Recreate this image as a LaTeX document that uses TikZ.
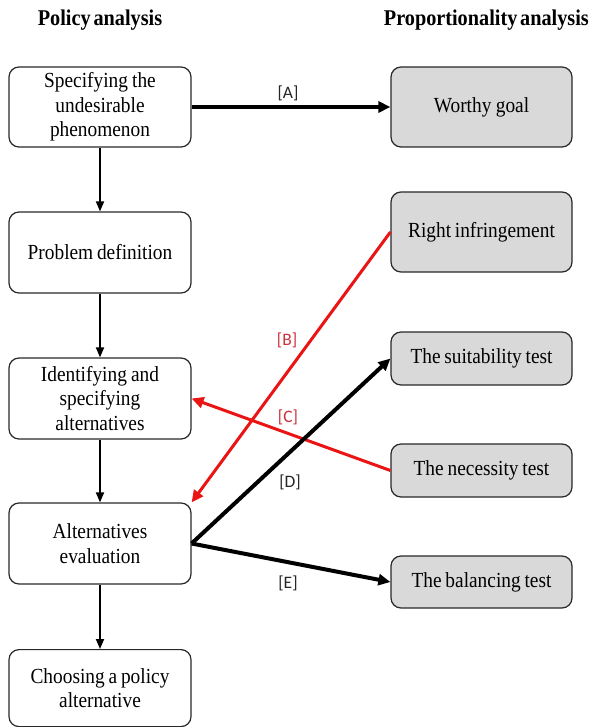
\documentclass[tikz,border=0pt]{standalone}
\usepackage{fontspec}
\setmainfont{Liberation Serif}[FakeStretch=0.9, WordSpace=0.55]
\newfontfamily\labfont{Carlito}
\usetikzlibrary{arrows.meta}
\definecolor{boxgray}{RGB}{217,217,217}
\definecolor{arrred}{RGB}{235,20,20}
\definecolor{labred}{RGB}{205,50,60}
\definecolor{edgegray}{RGB}{40,40,40}
\tikzset{
  pbox/.style={draw=edgegray, line width=1.2pt, rounded corners=10pt, fill=white,
    minimum width=182pt, text width=172pt, align=center, inner sep=0pt,
    font=\fontsize{21.5}{24.5}\selectfont,
    execute at begin node={\spaceskip=0.16em plus 0.05em minus 0.02em\relax\xspaceskip=\spaceskip}},
  rbox/.style={pbox, fill=boxgray, minimum width=181pt},
  vline/.style={line width=1.8pt, -{Triangle[length=10pt,width=8pt]}},
  thickarr/.style={line width=4pt, -{Triangle[length=12pt,width=11pt]}},
  redarr/.style={line width=3pt, draw=arrred, -{Triangle[length=12pt,width=11pt]}},
  lab/.style={font=\labfont\fontsize{17.5}{19}\selectfont, inner sep=0pt, text=black!85},
  title/.style={font=\bfseries\fontsize{22.5}{26}\selectfont, inner sep=0pt}
}
\begin{document}
\begin{tikzpicture}[x=1pt,y=-1pt]
\useasboundingbox (0,0) rectangle (589,727);
\node[title] (t1) at (100,20) {Policy analysis};
\node[title, anchor=east] (t2) at (589,20) {Proportionality analysis};

\node[pbox, minimum height=80pt] (s1) at (100,107) {Specifying the\\undesirable\\phenomenon};
\node[pbox, minimum height=81pt] (s2) at (100,252.5) {Problem definition};
\node[pbox, minimum height=81pt] (s3) at (100,398.5) {Identifying and\\specifying\\alternatives};
\node[pbox, minimum height=81pt] (s4) at (100,543.5) {Alternatives\\evaluation};
\node[pbox, minimum height=77pt, anchor=north] (s5) at (100,649) {Choosing a policy\\alternative};

\node[rbox, minimum height=80pt] (r1) at (481.5,107) {Worthy goal};
\node[rbox, minimum height=80pt] (r2) at (481.5,232) {Right infringement};
\node[rbox, minimum height=53pt] (r3) at (481.5,358.5) {The suitability test};
\node[rbox, minimum height=53pt] (r4) at (481.5,470.5) {The necessity test};
\node[rbox, minimum height=52pt] (r5) at (481.5,582) {The balancing test};

\draw[vline] (s1.south) -- (s2.north);
\draw[vline] (s2.south) -- (s3.north);
\draw[vline] (s3.south) -- (s4.north);
\draw[vline] (s4.south) -- (s5.north);

\draw[thickarr] (s1.east) -- (r1.west);
\draw[redarr] (r2.west) -- (s4.north east);
\draw[redarr] (r4.west) -- (s3.east);
\draw[thickarr] (s4.east) -- (r3.west);
\draw[thickarr] (s4.east) -- (r5.west);

\node[lab] (la) at (288,93) {[A]};
\node[lab, text=labred] (lb) at (287,340) {[B]};
\node[lab, text=labred] (lc) at (288,417) {[C]};
\node[lab] (ld) at (290,482) {[D]};
\node[lab] (le) at (288,583) {[E]};
\end{tikzpicture}
\end{document}
